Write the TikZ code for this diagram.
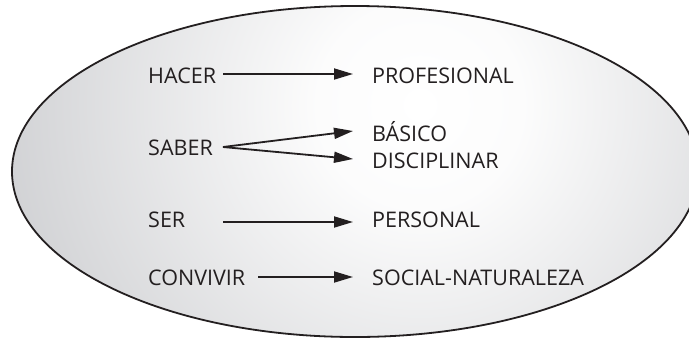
\documentclass[tikz,border=0pt]{standalone}
\usepackage{fontspec}
\setmainfont{Open Sans}
\usetikzlibrary{arrows.meta}
\definecolor{ink}{RGB}{35,31,32}
\definecolor{rimgray}{RGB}{150,152,158}
\pgfdeclareradialshading{ovalglow}{\pgfpoint{0bp}{0bp}}{%
  color(0bp)=(white);
  color(6bp)=(white!97!rimgray);
  color(50bp)=(rimgray)}
\tikzset{
  word/.style={inner sep=0pt, anchor=base west, text=ink,
    font=\fontsize{21.6}{21.6}\selectfont},
  conn/.style={draw=ink, line width=1.8bp,
    -{Triangle[length=19bp,width=11bp]}},
}
\begin{document}
\begin{tikzpicture}[x=1bp,y=-1bp]
  \useasboundingbox (0,0) rectangle (689,339);
  % shaded oval
  \begin{scope}
    \clip (355,171.5) ellipse [x radius=343, y radius=165.5];
    \shade[shading=ovalglow] (420,105) circle (430);
  \end{scope}
  \draw[ink, line width=1.8bp] (355,171.5) ellipse [x radius=343, y radius=165.5];
  % left column
  \node[word] (hacer)    at (148,83)  {HACER};
  \node[word] (saber)    at (148,155) {SABER};
  \node[word] (ser)      at (148,227) {SER};
  \node[word] (convivir) at (148,285) {CONVIVIR};
  % right column
  \node[word] (prof)  at (372,83)  {PROFESIONAL};
  \node[word] (basic) at (372,141) {BÁSICO};
  \node[word] (disc)  at (372,168) {DISCIPLINAR};
  \node[word] (pers)  at (372,227) {PERSONAL};
  \node[word] (soc)   at (372,285) {SOCIAL-NATURALEZA};
  % arrow ends
  \coordinate (h0) at (223,74);  \coordinate (h1) at (353,74);
  \coordinate (s0) at (223,147); \coordinate (b1) at (353,131);
  \coordinate (d1) at (353,159);
  \coordinate (r0) at (223,222); \coordinate (r1) at (353,222);
  \coordinate (c0) at (258,277); \coordinate (c1) at (353,277);
  \draw[conn] (h0) -- (h1);
  \draw[conn] (s0) -- (b1);
  \draw[conn] (s0) -- (d1);
  \draw[conn] (r0) -- (r1);
  \draw[conn] (c0) -- (c1);
\end{tikzpicture}
\end{document}
